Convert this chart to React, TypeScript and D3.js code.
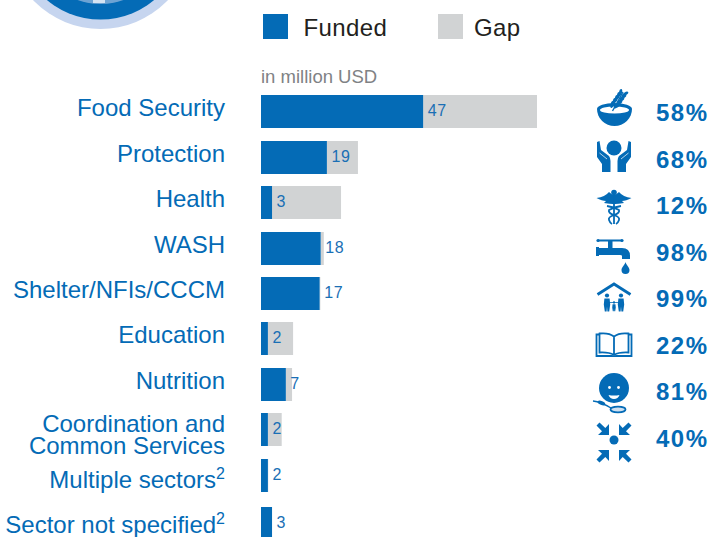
import React from "react";
import * as d3 from "d3";

const categories = ["Food Security","Protection","Health","WASH","Shelter/NFIs/CCCM","Education","Nutrition","Coordination and Common Services","Multiple sectors","Sector not specified"];
const fundedValues = [47, 19.1, 3.2, 17.3, 17, 2, 7.2, 2, 2, 3.2];
const gapValues = [33, 9, 20, 0.9, 0.2, 7.3, 1.8, 4, 0.1, 0];
const valueLabels = ["47","19","3","18","17","2","7","2","2","3"];
const percentCategories = categories.slice(0, 8);
const percentLabels = ["58%","68%","12%","98%","99%","22%","81%","40%"];

const BLUE = "#046bb6";
const GRAY = "#d1d3d4";
const FONT = "'Liberation Sans', Arial, sans-serif";

const x = d3.scaleLinear().domain([0, 80]).range([261, 537]);
const y = d3.scaleBand<string>().domain(categories).range([95.3, 95.3 + 45.4 * 9 + 33]).paddingInner(12.4 / 45.4).paddingOuter(0);
const pY = d3.scalePoint<string>().domain(percentCategories).range([121, 447]);
const rowTop = (c: string, i: number) => Math.round((y(c) as number) + (i === 9 ? 3 : 0));

const Bowl = () => {
  const grains = d3.range(5);
  return (
    <g transform="translate(614.5,110)" fill={BLUE}>
      <path d="M-17.5,-1 A17.5,17 0 0 0 17.5,-1 A17.5,6 0 0 0 -17.5,-1Z" />
      <ellipse cx={0} cy={0} rx={14.5} ry={3.6} fill="#fff" />
      <path d="M-2,1 L8.5,-18" stroke={BLUE} strokeWidth={1.4} fill="none" />
      {grains.map((k) => {
        const lx = -2.4 + k * 2.1, ly = -5.5 - k * 3, rx = 2.6 + k * 2, ry = -4 - k * 3;
        return (
          <g key={k}>
            <ellipse cx={lx} cy={ly} rx={1.6} ry={3.6} transform={`rotate(12 ${lx} ${ly})`} />
            <ellipse cx={rx} cy={ry} rx={1.6} ry={3.6} transform={`rotate(58 ${rx} ${ry})`} />
          </g>
        );
      })}
    </g>
  );
};

const hand = "M-17,-13 L-14.5,-14 L-13,-5 L-5,1 Q-3.5,3 -3.5,6 L-3.5,17 L-12,17 L-12,9 L-17,2 Z";
const Hands = () => (
  <g transform="translate(614,155)" fill={BLUE}>
    <circle cx={0} cy={-7} r={7.5} />
    <path d={hand} />
    <path d={hand} transform="scale(-1,1)" />
    <path d="M-14.5,-2 L-7,4" stroke="#fff" strokeWidth={0.7} fill="none" />
    <path d="M14.5,-2 L7,4" stroke="#fff" strokeWidth={0.7} fill="none" />
  </g>
);

const Caduceus = () => (
  <g transform="translate(614,198)">
    <circle cx={0} cy={-5.5} r={2.8} fill={BLUE} />
    <path d="M-17.5,0 Q-9,-1 -5,-6 Q-2,-3 0,-3 Q2,-3 5,-6 Q9,-1 17.5,0 Q12,3 8,3 L10,5 Q4,6 1,6 L-1,6 Q-4,6 -10,5 L-8,3 Q-12,3 -17.5,0Z" fill={BLUE} />
    <path d="M0,-3 L0,26" stroke={BLUE} strokeWidth={1.8} />
    <path d="M-7,8 Q0,9 5,12 Q6,15 0,17 Q-6,19 -5,22 Q-4,25 -2,26" fill="none" stroke={BLUE} strokeWidth={1.8} />
    <path d="M7,8 Q0,9 -5,12 Q-6,15 0,17 Q6,19 5,22 Q4,25 2,26" fill="none" stroke={BLUE} strokeWidth={1.8} />
  </g>
);

const Faucet = () => (
  <g transform="translate(614,255)" fill={BLUE}>
    <rect x={-16} y={-15.5} width={24} height={2} />
    <circle cx={-16} cy={-14.5} r={1.6} />
    <circle cx={8} cy={-14.5} r={1.6} />
    <rect x={-6} y={-15} width={4.5} height={8} />
    <path d="M-18,-8 L-15,-8 L-15,-7 L8,-7 Q16,-7 16,1 L16,4 L8,4 L8,1 Q8,0 6,0 L-15,0 L-15,1 L-18,1 Z" />
    <path d="M11.5,7 C12,10 15.5,12 15.5,15 A4,4 0 0 1 7.5,15 C7.5,12 11,10 11.5,7Z" />
  </g>
);

const person = (cx: number, s: number, key: string) => (
  <g key={key} transform={`translate(${cx},0) scale(${s})`}>
    <circle cx={0} cy={0} r={2.1} />
    <path d="M-2.6,3 L2.6,3 L3.2,9 L2.2,16 L0.4,16 L0,11 L-0.4,16 L-2.2,16 L-3.2,9 Z" />
  </g>
);
const House = () => (
  <g transform="translate(614,295.5)" fill={BLUE}>
    <path d="M-16.5,-1 L0,-11.5 L16.5,-1" fill="none" stroke={BLUE} strokeWidth={2.8} />
    {person(-7, 1, "a")}
    {person(7, 1, "b")}
    <g transform="translate(0,7)">{person(0, 0.55, "c")}</g>
    <path d="M-4,7 L4,7" stroke={BLUE} strokeWidth={0.8} />
  </g>
);

const Book = () => (
  <g transform="translate(614,344.5)" fill="none" stroke={BLUE} strokeWidth={1.8}>
    <path d="M-14,-10 L-17.5,-10 L-17.5,11.5 L-2,11.5 Q0,11.5 0,12.5 Q0,11.5 2,11.5 L17.5,11.5 L17.5,-10 L14,-10" />
    <path d="M0,-8 Q-5,-12 -14.5,-11 L-14.5,8 Q-5,7.5 0,10.5 Q5,7.5 14.5,8 L14.5,-11 Q5,-12 0,-8 L0,10.5" />
  </g>
);

const Face = () => (
  <g transform="translate(614,388)">
    <circle cx={0} cy={0} r={15} fill={BLUE} />
    <circle cx={-4.5} cy={-0.5} r={1.4} fill="#fff" />
    <circle cx={4.5} cy={-0.5} r={1.4} fill="#fff" />
    <path d="M-5.5,7 Q0,8 5.5,7 Q4,11 0,11 Q-4,11 -5.5,7Z" fill="#fff" />
    <path d="M-21,13 Q-13,14 -3,20" fill="none" stroke={BLUE} strokeWidth={1.3} />
    <ellipse cx={-12.5} cy={15} rx={4} ry={2} fill={BLUE} transform="rotate(22 -12.5 15)" />
    <ellipse cx={4} cy={21.5} rx={7.5} ry={2.8} fill="#cfe0f0" stroke={BLUE} strokeWidth={1.8} />
  </g>
);

const arrow = "M0,0 L-11,0 L-7,-3.7 L-12.5,-9.5 L-9.5,-12.5 L-3.7,-7 L0,-11 Z";
const Arrows = () => (
  <g transform="translate(614,440)" fill={BLUE}>
    <circle cx={0} cy={0} r={4.5} />
    <path transform="translate(-5,-5)" d={arrow} />
    <path transform="translate(5,-5) scale(-1,1)" d={arrow} />
    <path transform="translate(-5,10) scale(1,-1)" d={arrow} />
    <path transform="translate(5,10) scale(-1,-1)" d={arrow} />
  </g>
);

const labelStyle = { fontFamily: FONT, fontSize: 24, fill: BLUE, textAnchor: "end" as const };

export default function App() {
  return (
    <svg width={710} height={537} viewBox="0 0 710 537" style={{ position: "absolute", left: 0, top: 0, display: "block", overflow: "hidden", background: "#fff" }}>
      <g>
        <circle cx={100.5} cy={-64} r={93} fill="#c6d5ef" />
        <circle cx={100.5} cy={-64} r={83.5} fill={BLUE} />
        <circle cx={100.5} cy={-64} r={68} fill="#6ea3d3" />
        <rect x={93} y={-5} width={12} height={8} fill="#d5e3f2" />
      </g>

      <rect x={263} y={14} width={25} height={25} fill={BLUE} />
      <text x={303.5} y={36} fontFamily={FONT} fontSize={24} letterSpacing={0.4} fill="#231f20">Funded</text>
      <rect x={438} y={14} width={25} height={25} fill={GRAY} />
      <text x={474} y={36} fontFamily={FONT} fontSize={24} letterSpacing={0.4} fill="#231f20">Gap</text>
      <text x={261} y={83} fontFamily={FONT} fontSize={18.5} fill="#808285">in million USD</text>

      {categories.map((c, i) => {
        const top = rowTop(c, i);
        return (
          <g key={c}>
            <rect x={x(fundedValues[i])} y={top} width={x(gapValues[i]) - x(0)} height={y.bandwidth()} fill={GRAY} />
            <rect x={x(0)} y={top} width={x(fundedValues[i]) - x(0)} height={y.bandwidth()} fill={BLUE} />
            <text x={x(fundedValues[i]) + 4.5} y={top + y.bandwidth() / 2 + 4.5} fontFamily={FONT} fontSize={16} letterSpacing={0.6} fill="#1a6fb5">{valueLabels[i]}</text>
          </g>
        );
      })}

      {categories.slice(0, 7).map((c, i) => (
        <text key={c} x={225} y={rowTop(c, i) + 21} {...labelStyle}>{c}</text>
      ))}
      <text x={225} y={432} {...labelStyle}>Coordination and</text>
      <text x={225} y={454} {...labelStyle}>Common Services</text>
      <text x={225} y={488} {...labelStyle}>{categories[8]}<tspan dy={-9.5} fontSize={16}>2</tspan></text>
      <text x={225} y={533} {...labelStyle}>{categories[9]}<tspan dy={-9.5} fontSize={16}>2</tspan></text>

      <Bowl />
      <Hands />
      <Caduceus />
      <Faucet />
      <House />
      <Book />
      <Face />
      <Arrows />

      {percentCategories.map((c, i) => (
        <text key={c} x={656} y={pY(c) as number} fontFamily={FONT} fontSize={24} fontWeight={700} letterSpacing={1.5} fill={BLUE}>{percentLabels[i]}</text>
      ))}
    </svg>
  );
}
